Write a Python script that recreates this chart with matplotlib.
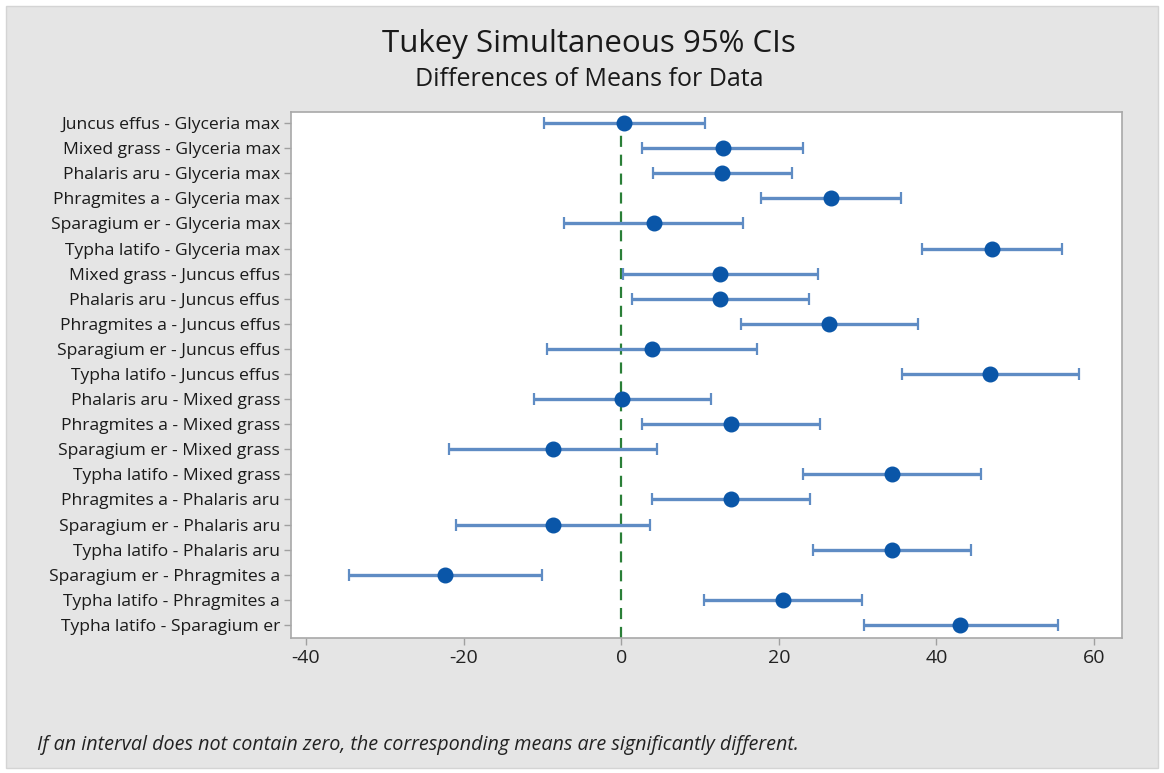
import matplotlib
matplotlib.use("Agg")
import matplotlib.pyplot as plt
from matplotlib.patches import Rectangle

comparisons = [
    "Juncus effus - Glyceria max",
    "Mixed grass - Glyceria max",
    "Phalaris aru - Glyceria max",
    "Phragmites a - Glyceria max",
    "Sparagium er - Glyceria max",
    "Typha latifo - Glyceria max",
    "Mixed grass - Juncus effus",
    "Phalaris aru - Juncus effus",
    "Phragmites a - Juncus effus",
    "Sparagium er - Juncus effus",
    "Typha latifo - Juncus effus",
    "Phalaris aru - Mixed grass",
    "Phragmites a - Mixed grass",
    "Sparagium er - Mixed grass",
    "Typha latifo - Mixed grass",
    "Phragmites a - Phalaris aru",
    "Sparagium er - Phalaris aru",
    "Typha latifo - Phalaris aru",
    "Sparagium er - Phragmites a",
    "Typha latifo - Phragmites a",
    "Typha latifo - Sparagium er",
]
diff = [0.3, 12.9, 12.85, 26.6, 4.15, 47.0, 12.6, 12.6, 26.4, 3.9, 46.8,
        0.1, 13.95, -8.6, 34.4, 13.95, -8.6, 34.35, -22.4, 20.55, 43.05]
lower = [-9.85, 2.7, 4.0, 17.8, -7.2, 38.2, 0.2, 1.35, 15.15, -9.4, 35.6,
         -11.1, 2.7, -21.9, 23.1, 3.95, -20.9, 24.3, -34.6, 10.5, 30.8]
upper = [10.6, 23.1, 21.7, 35.5, 15.5, 55.9, 25.0, 23.8, 37.6, 17.2, 58.1,
         11.35, 25.2, 4.6, 45.7, 24.0, 3.67, 44.4, -10.1, 30.6, 55.4]
x_ticks = [-40, -20, 0, 20, 40, 60]

plt.rcParams["font.family"] = ["Open Sans", "DejaVu Sans"]

fig = plt.figure(figsize=(11.64, 7.73), dpi=100, facecolor="white")
fig.patches.append(Rectangle((6 / 1164, 5 / 773), 1152 / 1164, 762 / 773,
                             transform=fig.transFigure, facecolor="#e5e5e5",
                             edgecolor="#d4d4d4", linewidth=1, zorder=-10))

ax = fig.add_axes([291 / 1164, 1 - 638 / 773, 831 / 1164, 526 / 773])
ax.set_zorder(5)
ax.set_facecolor("white")

rows = list(range(len(comparisons)))
err = [[d - lo for d, lo in zip(diff, lower)], [up - d for d, up in zip(diff, upper)]]

ax.axvline(0, color="#2a7f37", linestyle=(0, (5, 3.5)), linewidth=1.6, zorder=1)
ax.errorbar(diff, rows, xerr=err, fmt="o", color="#0a56a8", markersize=10.5,
            ecolor="#5f8cc4", elinewidth=2.4, capsize=4, capthick=1.6, zorder=3)

ax.set_xlim(-41.9, 63.55)
ax.set_ylim(20.52, -0.44)
ax.set_xticks(x_ticks)
ax.set_xticklabels([str(t) for t in x_ticks], fontsize=14, color="#222222")
ax.set_yticks(rows)
ax.set_yticklabels(comparisons, fontsize=12.6, color="#1a1a1a")
ax.tick_params(axis="both", length=5, width=1, color="#a0a0a0", pad=3)
for s in ax.spines.values():
    s.set_color("#a8a8a8")
    s.set_linewidth(1.2)

fig.text(0.506, 1 - 44 / 773, "Tukey Simultaneous 95% CIs", ha="center", va="center",
         fontsize=22.5, color="#1a1a1a")
fig.text(0.506, 1 - 79 / 773, "Differences of Means for Data", ha="center", va="center",
         fontsize=18, color="#1a1a1a")
fig.text(37 / 1164, 1 - 745 / 773,
         "If an interval does not contain zero, the corresponding means are significantly different.",
         ha="left", va="center", fontsize=14.2, style="italic", color="#222222")

fig.savefig("out.png", dpi=100, facecolor=fig.get_facecolor())
